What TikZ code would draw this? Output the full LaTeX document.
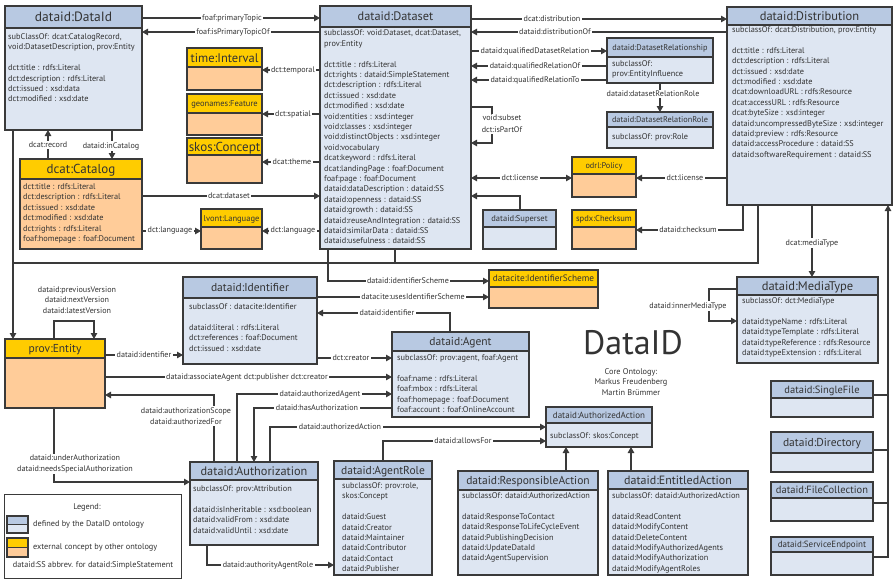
\documentclass[tikz,border=0pt]{standalone}
\usepackage{fontspec}
\setmainfont{PT Sans}
\usetikzlibrary{arrows.meta}
\definecolor{hblue}{HTML}{B8C9E2}
\definecolor{bblue}{HTML}{DEE6F2}
\definecolor{horange}{HTML}{FFCC00}
\definecolor{borange}{HTML}{FFCC99}
\definecolor{ink}{HTML}{333333}
\definecolor{edge}{HTML}{3A3A3A}
\tikzset{
 frame/.style={draw=edge, line width=1.4pt},
 body/.style={font=\fontsize{8.3}{10.4}\selectfont, text=ink, inner sep=0pt},
 lbl/.style={font=\fontsize{8.1}{10.4}\selectfont, text=ink, fill=white, inner sep=1.5pt, align=center},
 conn/.style={draw=edge, line width=1.1pt},
 arr/.style={conn, -{Triangle[length=6pt,width=6.5pt]}},
 darr/.style={conn, {Triangle[length=6pt,width=6.5pt]}-{Triangle[length=6pt,width=6.5pt]}},
}
\newcommand\ubox[9]{%
  \path[fill=b#2] (#3,#4) rectangle (#5,#6);
  \path[fill=h#2] (#3,#4) rectangle (#5,#7);
  \node[inner sep=0pt, outer sep=0pt, minimum width={#5-#3}, minimum height={#6-#4}, anchor=north west] (#1) at (#3,#4) {};
  \draw[frame] (#3,#7) -- (#5,#7);
  \draw[frame] (#3,#4) rectangle (#5,#6);
  \node[font=\fontsize{#8}{#8}\selectfont, text=ink, inner sep=0pt, anchor=base] (#1-t) at ({(#3+#5)/2},{(#4+#7)/2+0.36*#8}) {#9};
}
\newcommand\ulines[4]{\foreach \txt [count=\i] in {#4} {\node[body, anchor=base west] (#1\i) at (#2,{#3+(\i-1)*10.4}) {\txt};}}
\begin{document}
\begin{tikzpicture}[x=1pt,y=-1pt]
\useasboundingbox (0,0) rectangle (895,579);
% ---------- boxes
\ubox{dataid}{blue}{5}{6}{142}{130}{28}{13.5}{dataid:DataId}
\ubox{interval}{orange}{187}{48}{262}{90}{67}{12.5}{time:Interval}
\ubox{feature}{orange}{187}{94}{262}{135}{113}{8.5}{geonames:Feature}
\ubox{concept}{orange}{187}{138}{262}{183}{155}{13}{skos:Concept}
\ubox{catalog}{orange}{20}{159}{142}{249}{179}{13}{dcat:Catalog}
\ubox{language}{orange}{201}{209}{262}{249}{227}{8.5}{lvont:Language}
\ubox{dataset}{blue}{320}{6}{471}{249}{27}{12.3}{dataid:Dataset}
\ubox{distribution}{blue}{727}{7}{892}{205}{25}{12.5}{dataid:Distribution}
\ubox{relship}{blue}{607}{38}{713}{83}{57}{8.3}{dataid:DatasetRelationship}
\ubox{relrole}{blue}{607}{112}{713}{148}{127}{8.3}{dataid:DatasetRelationRole}
\ubox{policy}{orange}{572}{157}{636}{197}{174}{8.3}{odrl:Policy}
\ubox{superset}{blue}{483}{210}{556}{249}{227}{8.5}{dataid:Superset}
\ubox{checksum}{orange}{572}{210}{636}{249}{227}{8.5}{spdx:Checksum}
\ubox{scheme}{orange}{489}{270}{598}{308}{287}{9.3}{datacite:IdentifierScheme}
\ubox{mediatype}{blue}{737}{277}{878}{363}{295}{12.5}{dataid:MediaType}
\ubox{entity}{orange}{5}{339}{105}{408}{358}{11.5}{prov:Entity}
\ubox{identifier}{blue}{183}{277}{317}{364}{298}{11.5}{dataid:Identifier}
\ubox{agent}{blue}{392}{332}{529}{417}{351}{11.5}{dataid:Agent}
\ubox{authorization}{blue}{190}{462}{318}{545}{480}{12.3}{dataid:Authorization}
\ubox{agentrole}{blue}{334}{461}{432}{575}{479}{11.5}{dataid:AgentRole}
\ubox{authaction}{blue}{546}{407}{652}{447}{423}{9}{dataid:AuthorizedAction}
\ubox{respaction}{blue}{458}{471}{598}{575}{490}{11.5}{dataid:ResponsibleAction}
\ubox{entitled}{blue}{608}{471}{748}{575}{489}{12}{dataid:EntitledAction}
\ubox{singlefile}{blue}{771}{381}{873}{417}{398}{10.5}{dataid:SingleFile}
\ubox{directory}{blue}{771}{432}{873}{472}{453}{11.5}{dataid:Directory}
\ubox{filecoll}{blue}{771}{482}{873}{521}{498}{10.5}{dataid:FileCollection}
\ubox{endpoint}{blue}{771}{537}{873}{575}{552}{9}{dataid:ServiceEndpoint}
% ---------- body texts
\ulines{dataidl}{8}{39.5}{{subClassOf: dcat:CatalogRecord,},{void:DatasetDescription, prov:Entity},{},{dct:title : rdfs:Literal},{dct:description : rdfs:Literal},{dct:issued : xsd:data},{dct:modified : xsd:date}}
\ulines{catalogl}{23}{189.5}{{dct:title : rdfs:Literal},{dct:description : rdfs:Literal},{dct:issued : xsd:date},{dct:modified : xsd:date},{dct:rights : rdfs:Literal},{foaf:homepage : foaf:Document}}
\ulines{datasetl}{324}{35.8}{{subclassOf: void:Dataset, dcat:Dataset,},{prov:Entity},{},{dct:title : rdfs:Literal},{dct:rights : dataid:SimpleStatement},{dct:description : rdfs:Literal},{dct:issued : xsd:date},{dct:modified : xsd:date},{void:entities : xsd:integer},{void:classes : xsd:integer},{void:distinctObjects : xsd:integer},{void:vocabulary},{dcat:keyword : rdfs:Literal},{dcat:landingPage : foaf:Document},{foaf:page : foaf:Document},{dataid:dataDescription : dataid:SS},{dataid:openness : dataid:SS},{dataid:growth : dataid:SS},{dataid:reuseAndIntegration : dataid:SS},{dataid:similarData : dataid:SS},{dataid:usefulness : dataid:SS}}
\ulines{distl}{732}{32.5}{{subclassOf: dcat:Distribution, prov:Entity},{},{dct:title : rdfs:Literal},{dct:description : rdfs:Literal},{dct:issued : xsd:date},{dct:modified : xsd:date},{dcat:downloadURL : rdfs:Resource},{dcat:accessURL : rdfs:Resource},{dcat:byteSize : xsd:integer},{dataid:uncompressedByteSize : xsd:integer},{dataid:preview : rdfs:Resource},{dataid:accessProcedure : dataid:SS},{dataid:softwareRequirement : dataid:SS}}
\ulines{relshipl}{612}{66.5}{{subclassOf:},{prov:EntityInfluence}}
\ulines{relrolel}{612}{139.5}{{subclassOf: prov:Role}}
\ulines{identl}{189}{309.5}{{subclassOf : datacite:Identifier},{},{dataid:literal : rdfs:Literal},{dct:references : foaf:Document},{dct:issued : xsd:date}}
\ulines{agentl}{397}{360.5}{{subclassOf: prov:agent, foaf:Agent},{},{foaf:name : rdfs:Literal},{foaf:mbox : rdfs:Literal},{foaf:homepage : foaf:Document},{foaf:account : foaf:OnlineAccount}}
\ulines{medial}{742}{303.5}{{subclassOf: dct:MediaType},{},{dataid:typeName : rdfs:Literal},{dataid:typeTemplate : rdfs:Literal},{dataid:typeReference : rdfs:Resource},{dataid:typeExtension : rdfs:Literal}}
\ulines{authl}{193}{491.5}{{subclassOf: prov:Attribution},{},{dataid:isInheritable : xsd:boolean},{dataid:validFrom : xsd:date},{dataid:validUntil : xsd:date}}
\ulines{rolel}{342}{488.5}{{subclassOf: prov:role,},{skos:Concept},{},{dataid:Guest},{dataid:Creator},{dataid:Maintainer},{dataid:Contributor},{dataid:Contact},{dataid:Publisher}}
\ulines{aactl}{550}{438.5}{{subclassOf: skos:Concept}}
\ulines{respl}{462}{498.5}{{subclassOf: dataid:AuthorizedAction},{},{dataid:ResponseToContact},{dataid:ResponseToLifeCycleEvent},{dataid:PublishingDecision},{dataid:UpdateDataId},{dataid:AgentSupervision}}
\ulines{entl}{612}{498.5}{{subclassOf: dataid:AuthorizedAction},{},{dataid:ReadContent},{dataid:ModifyContent},{dataid:DeleteContent},{dataid:ModifyAuthorizedAgents},{dataid:ModifyAuthorization},{dataid:ModifyAgentRoles}}
% ---------- connectors
\draw[arr] (dataid.east |- 0,18) -- (dataset.west |- 0,18);
\draw[arr] (dataset.west |- 0,32) -- (dataid.east |- 0,32);
\draw[arr] (dataset.west |- 0,70) -- (interval.east |- 0,70);
\draw[arr] (dataset.west |- 0,114) -- (feature.east |- 0,114);
\draw[arr] (dataset.west |- 0,162) -- (concept.east |- 0,162);
\draw[arr] (catalog.north -| 48,0) -- (dataid.south -| 48,0);
\draw[arr] (dataid.south -| 112,0) -- (catalog.north -| 112,0);
\draw[arr] (catalog.east |- 0,196) -- (dataset.west |- 0,196);
\draw[arr] (catalog.east |- 0,231) -- (language.west |- 0,231);
\draw[arr] (dataset.west |- 0,231) -- (language.east |- 0,231);
\coordinate (join) at (13,263);
\coordinate (join2) at (395,263);
\draw[arr] (dataid.south -| 13,0) -- (entity.north -| 13,0);
\draw[conn] (dataset.south -| 395,0) |- (join);
\draw[conn] (distribution.south -| 758,0) |- (join2);
\draw[arr] (dataset.east |- 0,19) -- (distribution.west |- 0,19);
\draw[arr] (distribution.west |- 0,32) -- (dataset.east |- 0,32);
\draw[arr] (dataset.east |- 0,51) -- (relship.west |- 0,51);
\draw[arr] (relship.west |- 0,66) -- (dataset.east |- 0,66);
\draw[arr] (relship.west |- 0,80) -- (dataset.east |- 0,80);
\draw[arr] (relship.south -| 660,0) -- (relrole.north -| 660,0);
\draw[arr] (dataset.east |- 0,107) -| (492,143) -- (dataset.east |- 0,143);
\draw[darr] (dataset.east |- 0,178) -- (policy.west |- 0,178);
\draw[arr] (distribution.west |- 0,178) -- (policy.east |- 0,178);
\draw[arr] (superset.north -| 520,0) |- (dataset.east |- 0,196);
\draw[arr] (distribution.south -| 743,0) |- (checksum.east |- 0,230);
\draw[arr] (distribution.south -| 812,0) -- (mediatype.north -| 812,0);
\draw[arr] (mediatype.west |- 0,289) -| (709,321) -- (mediatype.west |- 0,321);
\draw[arr] (dataset.south -| 328,0) |- (scheme.west |- 0,281);
\draw[arr] (identifier.east |- 0,297) -- (scheme.west |- 0,297);
\draw[arr] (entity.east |- 0,355) -- (identifier.west |- 0,355);
\draw[arr] (agent.north -| 450,0) |- (identifier.east |- 0,313);
\draw[arr] (identifier.east |- 0,358) -- (agent.west |- 0,358);
\draw[arr] (entity.east |- 0,377) -- (agent.west |- 0,377);
\draw[arr] (authorization.north -| 237,0) |- (agent.west |- 0,394);
\draw[arr] (agent.west |- 0,408) -| (authorization.north -| 254,0);
\draw[arr] (authorization.north -| 270,0) |- (authaction.west |- 0,427);
\draw[arr] (authorization.north -| 214,0) |- (entity.east |- 0,395);
\draw[arr] (entity.south -| 54,0) |- (authorization.west |- 0,482);
\draw[arr] (authorization.south -| 207,0) |- (agentrole.west |- 0,565);
\draw[arr] (agentrole.north -| 383,0) |- (authaction.west |- 0,441);
\draw[arr] (respaction.north -| 566,0) -- (authaction.south -| 566,0);
\draw[arr] (entitled.north -| 631,0) -- (authaction.south -| 631,0);
\draw[arr] (entity.north -| 54,0) |- (94,321) -- (entity.north -| 94,0);
\draw[conn] (singlefile.east |- 0,395) -- (888,395);
\draw[conn] (directory.east |- 0,450) -- (888,450);
\draw[conn] (filecoll.east |- 0,503) -- (888,503);
\draw[arr] (endpoint.east |- 0,557) -| (distribution.south -| 888,0);
% ---------- labels
\node[lbl] (l1) at (232,18) {foaf:primaryTopic};
\node[lbl] (l2) at (233,32) {foaf:isPrimaryTopicOf};
\node[lbl] (l3) at (293,70) {dct:temporal};
\node[lbl] (l4) at (293,114) {dct:spatial};
\node[lbl] (l5) at (292,162) {dcat:theme};
\node[lbl] (l6) at (48,145) {dcat:record};
\node[lbl] (l7) at (111,146) {dataid:inCatalog};
\node[lbl] (l8) at (229,196) {dcat:dataset};
\node[lbl] (l9) at (170,231) {dct:language};
\node[lbl] (l10) at (293,231) {dct:language};
\node[lbl] (l11) at (552,19) {dcat:distribution};
\node[lbl] (l12) at (555,32) {dataid:distributionOf};
\node[lbl] (l13) at (535,51) {dataid:qualifiedDatasetRelation};
\node[lbl] (l14) at (535,66) {dataid:qualifiedRelationOf};
\node[lbl] (l15) at (535,80) {dataid:qualifiedRelationTo};
\node[lbl] (l16) at (653,94) {dataid:datasetRelationRole};
\node[lbl, font=\fontsize{8.1}{12}\selectfont] (l17) at (502,124) {void:subset\\dct:isPartOf};
\node[lbl] (l18) at (520,178) {dct:license};
\node[lbl] (l19) at (685,178) {dct:license};
\node[lbl] (l20) at (688,230) {dataid:checksum};
\node[lbl] (l21) at (812,243) {dcat:mediaType};
\node[lbl] (l22) at (688,306) {dataid:innerMediaType};
\node[lbl] (l23) at (408,281) {dataid:identifierScheme};
\node[lbl] (l24) at (413,297) {datacite:usesIdentifierScheme};
\node[lbl] (l25) at (144,355) {dataid:identifier};
\node[lbl] (l26) at (387,313) {dataid:identifier};
\node[lbl] (l27) at (351,358) {dct:creator};
\node[lbl] (l28) at (247,377) {dataid:associateAgent dct:publisher dct:creator};
\node[lbl] (l29) at (320,394) {dataid:authorizedAgent};
\node[lbl] (l30) at (317,408) {dataid:hasAuthorization};
\node[lbl] (l31) at (340,427) {dataid:authorizedAction};
\node[lbl] (l32) at (186,416) {dataid:authorizationScope\\dataid:authorizedFor};
\node[lbl] (l33) at (75,464) {dataid:underAuthorization\\dataid:needsSpecialAuthorization};
\node[lbl] (l34) at (268,565) {dataid:authorityAgentRole};
\node[lbl] (l35) at (463,441) {dataid:allowsFor};
\node[lbl] (l36) at (77,300) {dataid:previousVersion\\dataid:nextVersion\\dataid:latestVersion};
% ---------- title
\node[font=\fontsize{34}{34}\selectfont, text=ink, inner sep=0pt] (title) at (633,343) {DataID};
\node[body, align=center] (credits) at (631,382) {Core Ontology:\\Markus Freudenberg\\Martin Brümmer};
% ---------- legend
\node[draw=edge, line width=1pt, minimum width=177, minimum height=84, anchor=north west, inner sep=0pt] (legend) at (4,494) {};
\node[body] (leg0) at (87,507) {Legend:};
\path[fill=hblue] (7,516) rectangle (28,524.5);
\path[fill=bblue] (7,524.5) rectangle (28,533);
\draw[frame, line width=1.2pt] (7,516) rectangle (28,533) (7,524.5) -- (28,524.5);
\path[fill=horange] (7,538) rectangle (28,547.5);
\path[fill=borange] (7,547.5) rectangle (28,557);
\draw[frame, line width=1.2pt] (7,538) rectangle (28,557) (7,547.5) -- (28,547.5);
\node[body, anchor=west] (leg1) at (33,524) {defined by the DataID ontology};
\node[body, anchor=west] (leg2) at (33,547) {external concept by other ontology};
\node[body] (leg3) at (93,565) {dataid:SS abbrev. for dataid:SimpleStatement};
\end{tikzpicture}
\end{document}
